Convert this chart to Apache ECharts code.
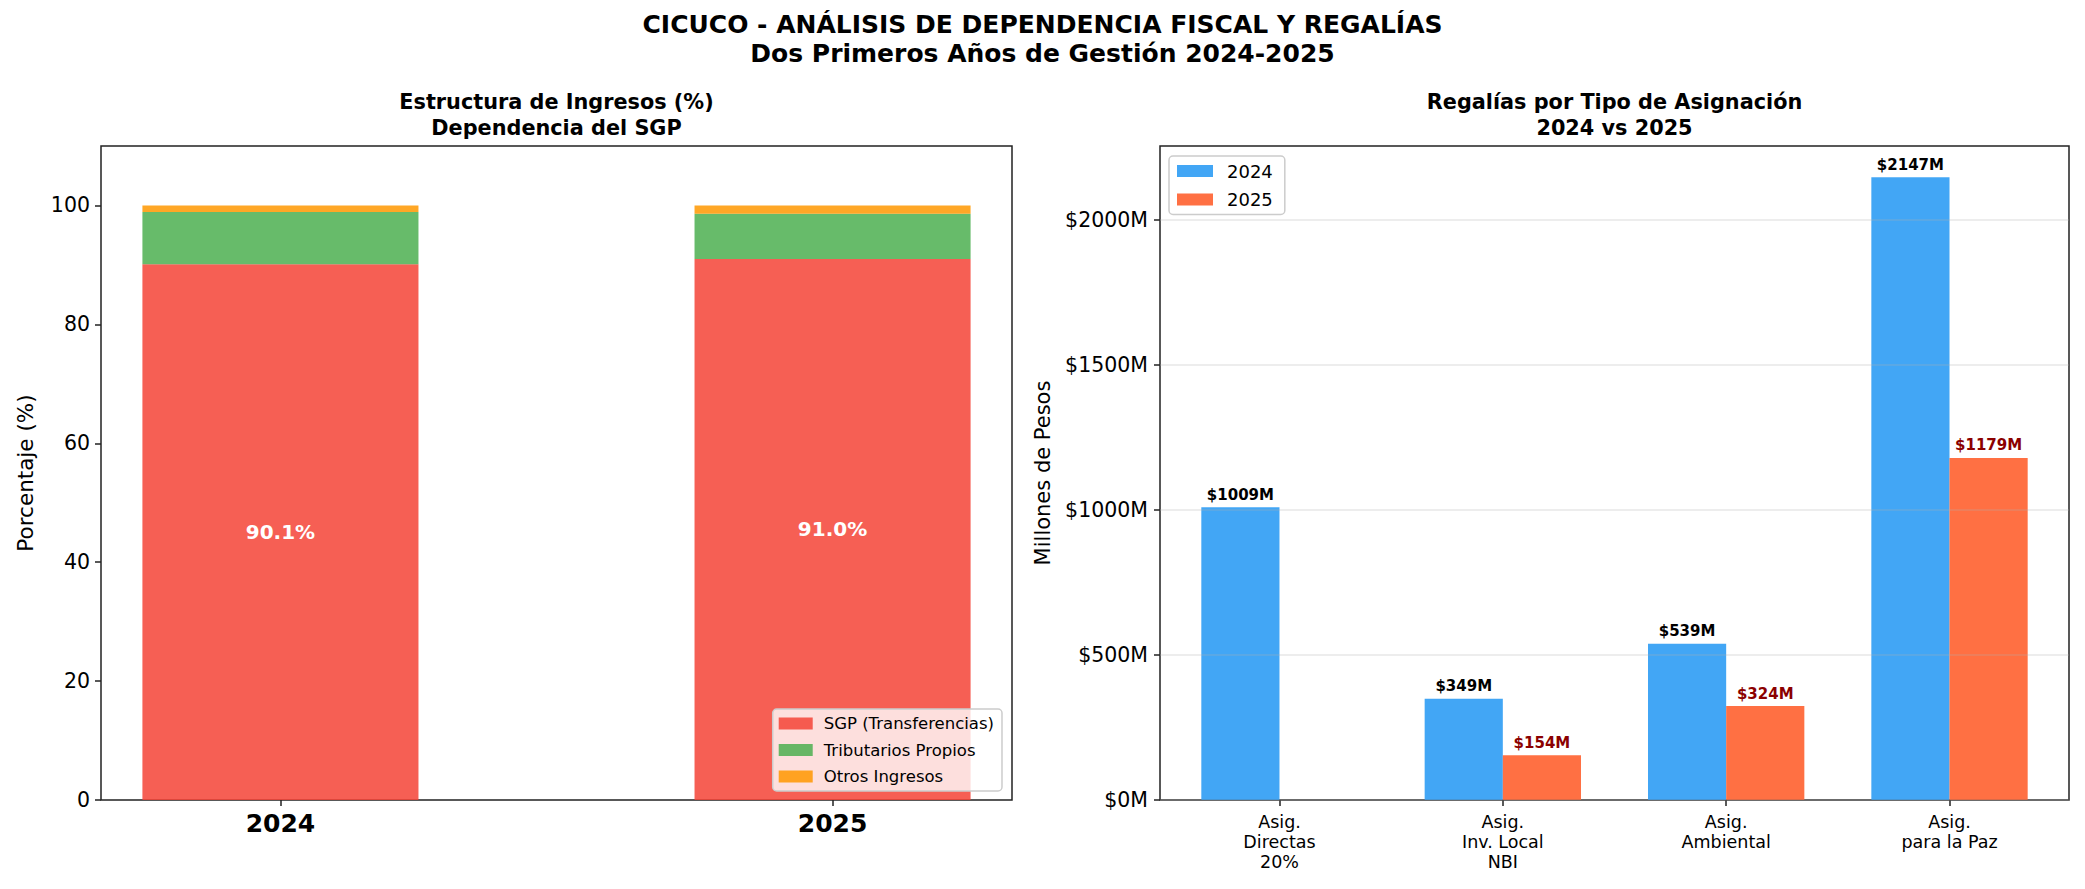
<!DOCTYPE html>
<html><head><meta charset="utf-8">
<script src="https://cdn.jsdelivr.net/npm/echarts@6/dist/echarts.min.js"></script>
<style>html,body{margin:0;padding:0;background:#fff}#c{width:2085px;height:889px}</style>
</head><body><div id="c"></div>
<script>
// ---- data ----
const years = ['2024', '2025'];
const sgp = [90.1, 91.0];
const tributarios = [8.8, 7.6];
const otros = [1.1, 1.4];
const leftTicks = [0, 20, 40, 60, 80, 100];

const asigCats = ['Asig.\nDirectas\n20%', 'Asig.\nInv. Local\nNBI', 'Asig.\nAmbiental', 'Asig.\npara la Paz'];
const reg2024 = [1009, 349, 539, 2147];
const reg2025 = [null, 154, 324, 1179];
const rightTicks = [0, 500, 1000, 1500, 2000];

// ---- layout ----
const FONT = 'DejaVu Sans';
const L = {left: 101, width: 911, top: 146, height: 654};
const R = {left: 1160, width: 909, top: 146, height: 654};
const lMin = -0.325, lMax = 1.325;
const rMin = -0.535, rMax = 3.535;
const lBarW = 0.5 * L.width / (lMax - lMin);
const rBarW = 0.35 * R.width / (rMax - rMin);
const off = 0.175;

const axisCol = '#222';
const chart = echarts.init(document.getElementById('c'), null, {renderer: 'svg'});

const leftYears = years.map((y, i) => i);
// value first, position second (encode maps them), so stacking acts on the value
function stackData(arr) { return arr.map((v, i) => [v, leftYears[i]]); }

const option = {
  animation: false,
  backgroundColor: '#fff',
  textStyle: {fontFamily: FONT},
  graphic: [
    {type: 'text', x: 1042.5, y: 10, style: {text: 'CICUCO - ANÁLISIS DE DEPENDENCIA FISCAL Y REGALÍAS\nDos Primeros Años de Gestión 2024-2025', align: 'center', verticalAlign: 'top', font: 'bold 25px "DejaVu Sans"', lineHeight: 29, fill: '#000'}},
    {type: 'text', x: L.left + L.width / 2, y: 89, style: {text: 'Estructura de Ingresos (%)\nDependencia del SGP', align: 'center', verticalAlign: 'top', font: 'bold 20.8px "DejaVu Sans"', lineHeight: 26, fill: '#000'}},
    {type: 'text', x: R.left + R.width / 2, y: 89, style: {text: 'Regalías por Tipo de Asignación\n2024 vs 2025', align: 'center', verticalAlign: 'top', font: 'bold 20.8px "DejaVu Sans"', lineHeight: 26, fill: '#000'}}
  ],
  legend: [
    {
      data: ['SGP (Transferencias)', 'Tributarios Propios', 'Otros Ingresos'],
      orient: 'vertical', right: 2085 - 1002, bottom: 889 - 791,
      itemWidth: 34, itemHeight: 12, itemGap: 9.5, icon: 'rect',
      backgroundColor: 'rgba(255,255,255,0.8)', borderColor: '#cccccc', borderWidth: 1.5, borderRadius: 4,
      padding: [6, 8, 6, 6],
      textStyle: {fontFamily: FONT, fontSize: 16.5, color: '#000', padding: [0, 0, 0, 6]}
    },
    {
      data: ['2024', '2025'],
      orient: 'vertical', left: 1169, top: 156,
      itemWidth: 36, itemHeight: 12, itemGap: 10.5, icon: 'rect',
      backgroundColor: 'rgba(255,255,255,0.8)', borderColor: '#cccccc', borderWidth: 1.5, borderRadius: 4,
      padding: [6, 12, 6, 8],
      textStyle: {fontFamily: FONT, fontSize: 18, color: '#000', padding: [0, 0, 0, 9]}
    }
  ],
  grid: [
    {left: L.left, width: L.width, top: L.top, height: L.height, show: true, borderColor: axisCol, borderWidth: 1.5, backgroundColor: 'transparent'},
    {left: R.left, width: R.width, top: R.top, height: R.height, show: true, borderColor: axisCol, borderWidth: 1.5, backgroundColor: 'transparent'}
  ],
  xAxis: [
    {
      type: 'value', gridIndex: 0, min: lMin, max: lMax,
      axisLine: {show: false, onZero: false}, splitLine: {show: false},
      axisTick: {show: true, customValues: leftYears, length: 6, lineStyle: {color: axisCol, width: 1.5}},
      axisLabel: {customValues: leftYears, formatter: v => years[Math.round(v)], fontFamily: FONT, fontSize: 25, fontWeight: 'bold', color: '#000', margin: 11}
    },
    {
      type: 'value', gridIndex: 1, min: rMin, max: rMax,
      axisLine: {show: false, onZero: false}, splitLine: {show: false},
      axisTick: {show: true, customValues: [0, 1, 2, 3], length: 6, lineStyle: {color: axisCol, width: 1.5}},
      axisLabel: {customValues: [0, 1, 2, 3], formatter: v => asigCats[Math.round(v)], fontFamily: FONT, fontSize: 17.5, lineHeight: 20, color: '#000', margin: 12, verticalAlign: 'top'}
    }
  ],
  yAxis: [
    {
      type: 'value', gridIndex: 0, min: 0, max: 110,
      name: 'Porcentaje (%)', nameLocation: 'middle', nameGap: 65,
      nameTextStyle: {fontFamily: FONT, fontSize: 21.5, color: '#000'},
      axisLine: {show: false, onZero: false}, splitLine: {show: false},
      axisTick: {show: true, customValues: leftTicks, length: 6, lineStyle: {color: axisCol, width: 1.5}},
      axisLabel: {customValues: leftTicks, fontFamily: FONT, fontSize: 20.5, color: '#000', margin: 11}
    },
    {
      type: 'value', gridIndex: 1, min: 0, max: 2147 * 1.05, interval: 500,
      name: 'Millones de Pesos', nameLocation: 'middle', nameGap: 107,
      nameTextStyle: {fontFamily: FONT, fontSize: 21, color: '#000'},
      axisLine: {show: false, onZero: false},
      z: 5,
      splitLine: {show: true, lineStyle: {color: 'rgba(176,176,176,0.3)', width: 1.5}},
      axisTick: {show: true, customValues: rightTicks, length: 6, lineStyle: {color: axisCol, width: 1.5}},
      axisLabel: {customValues: rightTicks, formatter: v => '$' + v + 'M', fontFamily: FONT, fontSize: 20.5, color: '#000', margin: 12}
    }
  ],
  series: [
    {
      name: 'SGP (Transferencias)', type: 'bar', xAxisIndex: 0, yAxisIndex: 0, stack: 'ing',
      encode: {x: 1, y: 0},
      barWidth: lBarW, data: stackData(sgp),
      itemStyle: {color: 'rgba(244,67,54,0.85)'},
      label: {show: true, position: 'inside', formatter: p => p.value[0].toFixed(1) + '%', color: '#fff', fontFamily: FONT, fontWeight: 'bold', fontSize: 20}
    },
    {
      name: 'Tributarios Propios', type: 'bar', xAxisIndex: 0, yAxisIndex: 0, stack: 'ing',
      encode: {x: 1, y: 0},
      barWidth: lBarW, data: stackData(tributarios),
      itemStyle: {color: 'rgba(76,175,80,0.85)'}
    },
    {
      name: 'Otros Ingresos', type: 'bar', xAxisIndex: 0, yAxisIndex: 0, stack: 'ing',
      encode: {x: 1, y: 0},
      barWidth: lBarW, data: stackData(otros),
      itemStyle: {color: 'rgba(255,152,0,0.85)'}
    },
    {
      name: '2024', type: 'bar', xAxisIndex: 1, yAxisIndex: 1,
      barWidth: rBarW, barGap: '-100%',
      data: reg2024.map((v, i) => [i - off, v == null ? '-' : v]),
      itemStyle: {color: 'rgba(33,150,243,0.85)'},
      label: {show: true, position: 'top', distance: 5, formatter: p => '$' + p.value[1] + 'M', color: '#000', fontFamily: FONT, fontWeight: 'bold', fontSize: 15}
    },
    {
      name: '2025', type: 'bar', xAxisIndex: 1, yAxisIndex: 1,
      barWidth: rBarW, barGap: '-100%',
      data: reg2025.map((v, i) => [i + off, v == null ? '-' : v]),
      itemStyle: {color: 'rgba(255,87,34,0.85)'},
      label: {show: true, position: 'top', distance: 5, formatter: p => '$' + p.value[1] + 'M', color: '#8B0000', fontFamily: FONT, fontWeight: 'bold', fontSize: 15}
    }
  ]
};
chart.setOption(option);
</script>
</body></html>
